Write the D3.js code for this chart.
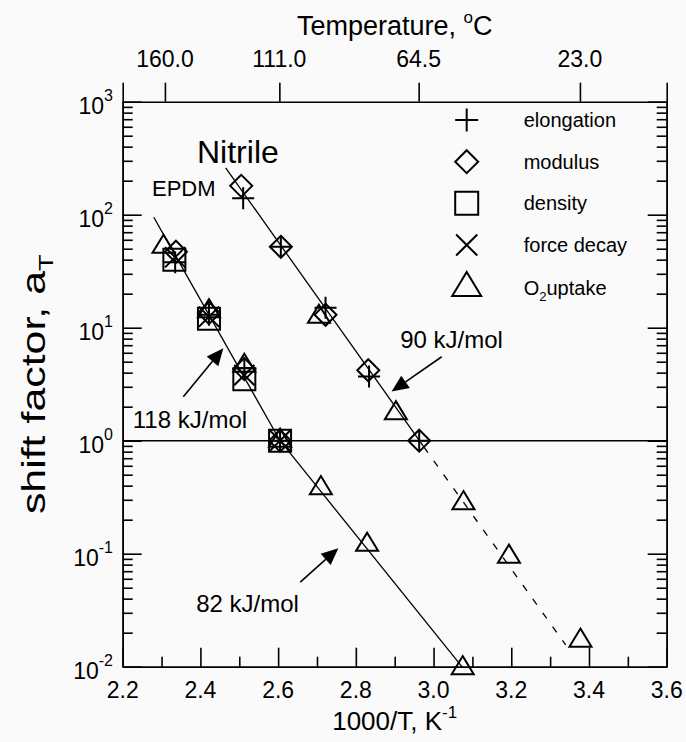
<!DOCTYPE html>
<html>
<head>
<meta charset="utf-8">
<script src="https://cdn.jsdelivr.net/npm/d3@7"></script>
<style>
  body { margin: 0; background: #fafafa; }
  svg { display: block; font-family: "Liberation Sans", Arial, sans-serif; }
</style>
</head>
<body>
<div id="chart"></div>
<script>
var w = 686;
var h = 742;
var plotL = 122.7, plotR = 666.7, plotT = 101.7, plotB = 666.7;

// axis ticks
var xMajor = [2.2, 2.4, 2.6, 2.8, 3.0, 3.2, 3.4, 3.6];
var xMinor = [2.3, 2.5, 2.7, 2.9, 3.1, 3.3, 3.5];
var yDecades = [-2, -1, 0, 1, 2, 3];
var tempLabels = ["160.0", "111.0", "64.5", "23.0"];
var tempValues = [160.0, 111.0, 64.5, 23.0];

// Nitrile, shifted to 64.5 C
var nitElongX = [2.51, 2.607, 2.722, 2.834, 2.963];
var nitElongY = [140, 52, 15, 3.7, 1.0];
var nitModX = [2.505, 2.607, 2.722, 2.832, 2.963];
var nitModY = [180, 52, 13, 4.2, 1.0];
var nitO2X = [2.705, 2.903, 3.077, 3.194, 3.378];
var nitO2Y = [12.5, 1.75, 0.28, 0.094, 0.017];

// EPDM, shifted to 111 C
var epElongX = [2.335, 2.422, 2.513, 2.605];
var epElongY = [38, 13, 4.4, 1.0];
var epModX = [2.337, 2.422, 2.513, 2.605];
var epModY = [47, 13.5, 4.3, 1.0];
var epDensX = [2.333, 2.422, 2.513, 2.605];
var epDensY = [40, 12, 3.5, 1.0];
var epForceX = [2.335, 2.422, 2.513, 2.605];
var epForceY = [42, 12.5, 3.8, 1.0];
var epO2X = [2.305, 2.422, 2.513, 2.605, 2.71, 2.829, 3.075];
var epO2Y = [52, 14, 4.6, 1.0, 0.38, 0.12, 0.0097];

// fitted Arrhenius lines
var nitSolidX = [2.465, 2.975];
var nitSolidY = [260, 0.88];
var nitDashX = [2.975, 3.34];
var nitDashY = [0.88, 0.0156];
var epHighX = [2.28, 2.605];
var epHighY = [95, 1.0];
var epLowX = [2.605, 3.075];
var epLowY = [1.0, 0.0098];

// activation energy notes: text position and arrow tail -> tip
var noteText = ["118 kJ/mol", "90 kJ/mol", "82 kJ/mol"];
var noteX = [2.226, 2.914, 2.389];
var noteY = [1.29, 6.6, 0.0305];
var arrowX0 = [2.356, 3.021, 2.657];
var arrowY0 = [2.45, 5.53, 0.056];
var arrowX1 = [2.459, 2.892, 2.755];
var arrowY1 = [6.58, 2.72, 0.112];

var legendNames = ["elongation", "modulus", "density", "force decay", "O2uptake"];
var legendSymbols = ["plus", "diamond", "square", "cross", "triangle"];

var svg = d3.select("#chart")
    .append("svg")
    .attr("width", w)
    .attr("height", h);

var x = d3.scaleLinear().domain([2.2, 3.6]).range([plotL, plotR]);
var y = d3.scaleLog().domain([0.01, 1000]).range([plotB, plotT]);

function styleAxis(g) {
    g.selectAll("path, line").attr("stroke", "#000").attr("stroke-width", 1.6);
    g.selectAll("text").remove();
}

// bottom axis, ticks pointing in
svg.append("g")
    .attr("transform", "translate(0," + plotB + ")")
    .call(d3.axisBottom(x).tickValues(xMajor).tickSize(-19).tickSizeOuter(0).tickFormat(""))
    .call(styleAxis);
svg.append("g")
    .attr("transform", "translate(0," + plotB + ")")
    .call(d3.axisBottom(x).tickValues(xMinor).tickSize(-10).tickSizeOuter(0).tickFormat(""))
    .call(styleAxis);

svg.selectAll(".xlab")
    .data(xMajor)
    .enter()
    .append("text")
    .attr("x", d => x(d))
    .attr("y", plotB + 31)
    .attr("text-anchor", "middle")
    .attr("font-size", 23)
    .text(d => d.toFixed(1));

// top axis = temperature
svg.append("g")
    .attr("transform", "translate(0," + plotT + ")")
    .call(d3.axisTop(x).tickValues(tempValues.map(t => 1000 / (t + 273.15))).tickSize(19).tickSizeOuter(19).tickFormat(""))
    .call(styleAxis);

svg.selectAll(".tlab")
    .data(tempValues)
    .enter()
    .append("text")
    .attr("x", d => x(1000 / (d + 273.15)))
    .attr("y", 66.7)
    .attr("text-anchor", "middle")
    .attr("font-size", 23)
    .text((d, i) => tempLabels[i]);

var tTitle = svg.append("text")
    .attr("x", (plotL + plotR) / 2)
    .attr("y", 35)
    .attr("text-anchor", "middle")
    .attr("font-size", 27);
tTitle.append("tspan").text("Temperature, ");
tTitle.append("tspan").attr("font-size", 17).attr("dy", -12).text("o");
tTitle.append("tspan").attr("dy", 12).text("C");

// log ticks, left and right
var yMinor = [];
yDecades.slice(0, -1).forEach(function(e) {
    for (var k = 2; k <= 9; k++) yMinor.push(k * Math.pow(10, e));
});
var yMajor = yDecades.map(e => Math.pow(10, e));

svg.append("g")
    .attr("transform", "translate(" + plotL + ",0)")
    .call(d3.axisLeft(y).tickValues(yMajor).tickSize(-19).tickSizeOuter(0).tickFormat(""))
    .call(styleAxis);
svg.append("g")
    .attr("transform", "translate(" + plotL + ",0)")
    .call(d3.axisLeft(y).tickValues(yMinor).tickSize(-10).tickSizeOuter(0).tickFormat(""))
    .call(styleAxis);
svg.append("g")
    .attr("transform", "translate(" + plotR + ",0)")
    .call(d3.axisRight(y).tickValues(yMajor).tickSize(-19).tickSizeOuter(0).tickFormat(""))
    .call(styleAxis);
svg.append("g")
    .attr("transform", "translate(" + plotR + ",0)")
    .call(d3.axisRight(y).tickValues(yMinor).tickSize(-10).tickSizeOuter(0).tickFormat(""))
    .call(styleAxis);

var ylab = svg.selectAll(".ylab")
    .data(yDecades)
    .enter()
    .append("text")
    .attr("x", 113)
    .attr("y", d => y(Math.pow(10, d)) + 12)
    .attr("text-anchor", "end")
    .attr("font-size", 23);
ylab.append("tspan").text("10");
ylab.append("tspan").attr("font-size", 16).attr("dy", -13).text(d => d);

var xTitle = svg.append("text")
    .attr("x", (plotL + plotR) / 2)
    .attr("y", 730)
    .attr("text-anchor", "middle")
    .attr("font-size", 26);
xTitle.append("tspan").text("1000/T, K");
xTitle.append("tspan").attr("font-size", 17).attr("dy", -12).text("-1");

// y title: long and slightly narrow like the scan
var yTitle = svg.append("text")
    .attr("transform", "translate(45," + (plotT + plotB) / 2 + ") rotate(-90) scale(1.3,1)")
    .attr("text-anchor", "middle")
    .attr("font-size", 33);
yTitle.append("tspan").text("shift factor, a");
yTitle.append("tspan").attr("font-size", 21).attr("dy", 8).text("T");

// reference line at a_T = 1
svg.append("line")
    .attr("x1", plotL).attr("x2", plotR)
    .attr("y1", y(1)).attr("y2", y(1))
    .attr("stroke", "#000").attr("stroke-width", 1.4);

// fit lines
var line = d3.line().x(d => x(d[0])).y(d => y(d[1]));
function fit(xs, ys, dash) {
    svg.append("path")
        .attr("d", line(d3.zip(xs, ys)))
        .attr("fill", "none")
        .attr("stroke", "#000")
        .attr("stroke-width", 1.3)
        .attr("stroke-dasharray", dash ? "7,10" : null);
}
fit(nitSolidX, nitSolidY, false);
fit(nitDashX, nitDashY, true);
fit(epHighX, epHighY, false);
fit(epLowX, epLowY, false);

// symbols, drawn as open outlines
function symbolPath(type, s) {
    if (type == "plus") return "M" + (-s) + ",0H" + s + "M0," + (-s) + "V" + s;
    if (type == "diamond") return "M0," + (-s) + "L" + s + ",0L0," + s + "L" + (-s) + ",0Z";
    if (type == "square") return "M" + (-s) + "," + (-s) + "H" + s + "V" + s + "H" + (-s) + "Z";
    if (type == "cross") { var c = s * 0.92; return "M" + (-c) + "," + (-c) + "L" + c + "," + c + "M" + (-c) + "," + c + "L" + c + "," + (-c); }
    if (type == "triangle") return "M0," + (-s * 1.1) + "L" + s + "," + (s * 0.55) + "L" + (-s) + "," + (s * 0.55) + "Z";
}

function points(xs, ys, type) {
    svg.selectAll(null)
        .data(d3.zip(xs, ys))
        .enter()
        .append("path")
        .attr("transform", d => "translate(" + x(d[0]) + "," + y(d[1]) + ")")
        .attr("d", symbolPath(type, 11))
        .attr("fill", "none")
        .attr("stroke", "#000")
        .attr("stroke-width", 2);
}
points(epO2X, epO2Y, "triangle");
points(epDensX, epDensY, "square");
points(epForceX, epForceY, "cross");
points(epModX, epModY, "diamond");
points(epElongX, epElongY, "plus");
points(nitO2X, nitO2Y, "triangle");
points(nitModX, nitModY, "diamond");
points(nitElongX, nitElongY, "plus");

// polymer names
svg.append("text").attr("x", 197).attr("y", 163).attr("font-size", 32).text("Nitrile");
svg.append("text").attr("x", 152).attr("y", 196).attr("font-size", 22).text("EPDM");

// notes with arrows
svg.selectAll(".note")
    .data(noteText)
    .enter()
    .append("text")
    .attr("x", (d, i) => x(noteX[i]))
    .attr("y", (d, i) => y(noteY[i]))
    .attr("font-size", 24)
    .text(d => d);

noteText.forEach(function(d, i) {
    var x0 = x(arrowX0[i]), y0 = y(arrowY0[i]);
    var x1 = x(arrowX1[i]), y1 = y(arrowY1[i]);
    var a = Math.atan2(y1 - y0, x1 - x0);
    var len = 17, half = 7.5;
    var bx = x1 - len * Math.cos(a), by = y1 - len * Math.sin(a);
    svg.append("line")
        .attr("x1", x0).attr("y1", y0).attr("x2", bx).attr("y2", by)
        .attr("stroke", "#000").attr("stroke-width", 1.6);
    svg.append("path")
        .attr("d", "M" + x1 + "," + y1 +
            "L" + (bx + half * Math.sin(a)) + "," + (by - half * Math.cos(a)) +
            "L" + (bx - half * Math.sin(a)) + "," + (by + half * Math.cos(a)) + "Z")
        .attr("fill", "#000");
});

// legend
var legendY = [120, 161.7, 203.3, 245, 288];
var leg = svg.selectAll(".leg")
    .data(legendNames)
    .enter()
    .append("g")
    .attr("transform", (d, i) => "translate(466.7," + legendY[i] + ")");
leg.append("path")
    .attr("d", (d, i) => symbolPath(legendSymbols[i], legendSymbols[i] == "triangle" ? 14.5 : 11.5))
    .attr("fill", "none")
    .attr("stroke", "#000")
    .attr("stroke-width", 2);
leg.append("text")
    .attr("x", 57)
    .attr("y", 7)
    .attr("font-size", 20)
    .each(function(d) {
        var t = d3.select(this);
        if (d == "O2uptake") {
            t.append("tspan").text("O");
            t.append("tspan").attr("font-size", 13).attr("dy", 6).text("2");
            t.append("tspan").attr("dy", -6).text("uptake");
        } else {
            t.text(d);
        }
    });
</script>
</body>
</html>
